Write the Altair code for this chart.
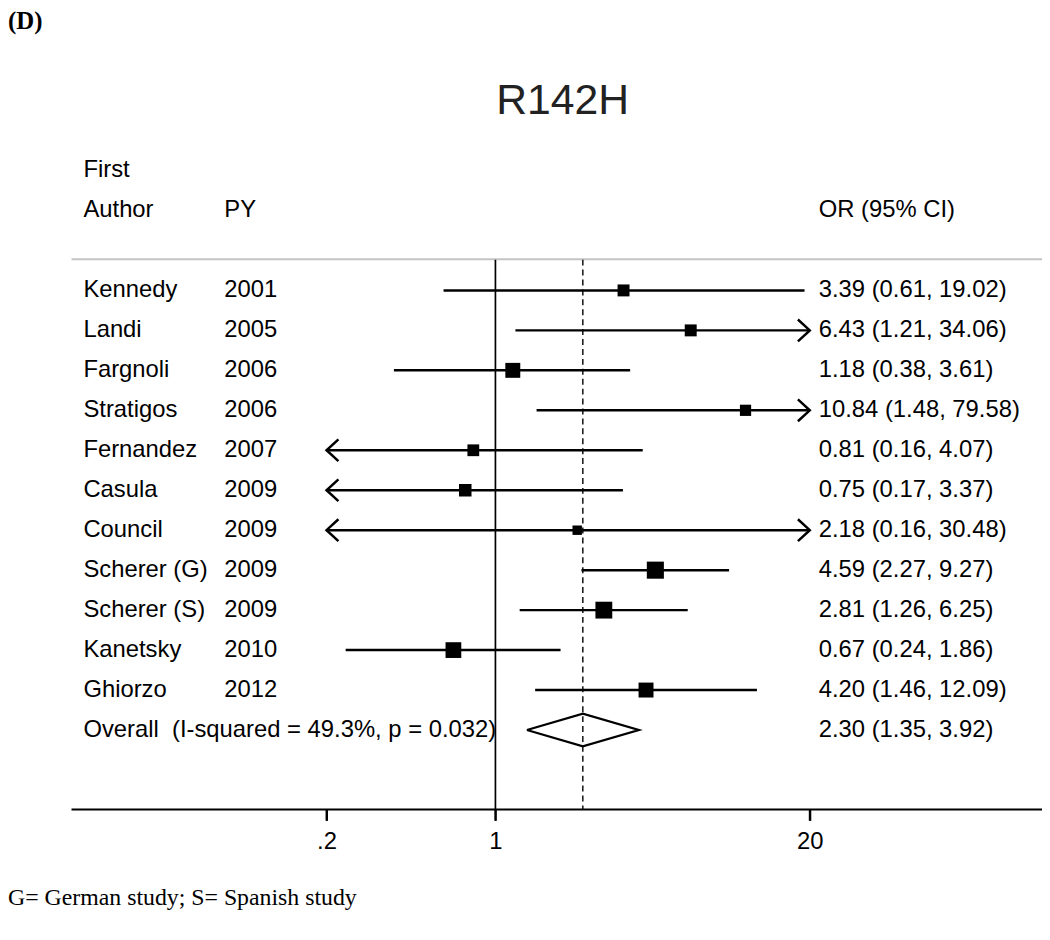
import altair as alt
import pandas as pd

# ---------------- data ----------------
authors = ["Kennedy", "Landi", "Fargnoli", "Stratigos", "Fernandez", "Casula",
           "Council", "Scherer (G)", "Scherer (S)", "Kanetsky", "Ghiorzo"]
years = ["2001", "2005", "2006", "2006", "2007", "2009", "2009", "2009", "2009", "2010", "2012"]
or_est = [3.39, 6.43, 1.18, 10.84, 0.81, 0.75, 2.18, 4.59, 2.81, 0.67, 4.20]
ci_low = [0.61, 1.21, 0.38, 1.48, 0.16, 0.17, 0.16, 2.27, 1.26, 0.24, 1.46]
ci_high = [19.02, 34.06, 3.61, 79.58, 4.07, 3.37, 30.48, 9.27, 6.25, 1.86, 12.09]
weights = [6.9, 6.9, 10.8, 6.1, 6.7, 7.6, 4.3, 14.1, 13.7, 12.0, 10.8]

overall_est, overall_low, overall_high = 2.30, 1.35, 3.92
i_squared, p_het = 49.3, 0.032

x_ticks = [0.2, 1.0, 20.0]
x_min, x_max = 0.2, 20
title_text = "R142H"
panel_label = "(D)"
footnote = "G= German study; S= Spanish study"

# ---------------- tables ----------------
n = len(authors)
df = pd.DataFrame({
    "author": authors, "year": years, "est": or_est, "lo": ci_low, "hi": ci_high,
    "w": weights, "row": list(range(1, n + 1)),
})
df["lo_c"] = df["lo"].clip(lower=x_min)
df["hi_c"] = df["hi"].clip(upper=x_max)
df["label"] = [f"{e:.2f} ({l:.2f}, {h:.2f})" for e, l, h in zip(or_est, ci_low, ci_high)]
left_arr = df[df["lo"] < x_min]
right_arr = df[df["hi"] > x_max]

orow = n + 1
ov_text = pd.DataFrame({
    "row": [orow, orow],
    "label": [f"Overall\u00a0 (I-squared = {i_squared}%, p = {p_het:.3f})",
              f"{overall_est:.2f} ({overall_low:.2f}, {overall_high:.2f})"],
    "col": ["a", "c"],
})
half_h = 0.41
diamond = pd.DataFrame({
    "x": [overall_low, overall_est, overall_high, overall_est, overall_low],
    "row": [orow, orow - half_h, orow, orow + half_h, orow],
    "o": [0, 1, 2, 3, 4],
})
headers = pd.DataFrame({
    "text": ["First", "Author", "PY", "OR (95% CI)"],
    "row": [-2, -1, -1, -1],
    "col": ["a", "a", "b", "c"],
})
# tick marks: from the axis line (row 13.99) down ~11px (row 14.26)
ticks_df = pd.DataFrame({"v": x_ticks, "r1": [13.99] * 3, "r2": [14.27] * 3})

FONT = "Liberation Sans, Arial, Helvetica, sans-serif"
SERIF = "Liberation Serif, Times New Roman, serif"
FS = 24
COLX = {"a": 76, "b": 218, "c": 817}

x_scale = alt.Scale(type="log", domain=[x_min, x_max], range=[321, 808], nice=False)
y_scale = alt.Scale(domain=[1, orow], range=[281, 724], nice=False, zero=False)

AX = alt.Axis(values=x_ticks, domain=False, grid=False, ticks=True, tickSize=11,
              tickWidth=2, tickColor="black", tickOpacity=1,
              labelFontSize=FS, labelFont=FONT, labelColor="black", labelPadding=9,
              labelFlush=False, labelOverlap=False, title=None,
              labelExpr="datum.value < 1 ? replace(format(datum.value, '.1f'), '0.', '.') : format(datum.value, 'd')")

def X(field):
    return alt.X(field, type="quantitative", scale=x_scale, title=None, axis=AX)

def Y(field="row"):
    return alt.Y(field, type="quantitative", scale=y_scale, axis=None, title=None)

null_df = pd.DataFrame({"v": [1.0]})
ov_df = pd.DataFrame({"v": [overall_est]})

null_line = alt.Chart(null_df).mark_rule(color="black", strokeWidth=1.7).encode(
    x=X("v"), y=alt.value(250), y2=alt.value(804),
)
dash_line = alt.Chart(ov_df).mark_rule(color="black", strokeWidth=1.4, strokeDash=[6, 4]).encode(
    x=X("v"), y=alt.value(250), y2=alt.value(804),
)
gray_line = alt.Chart(null_df).mark_rule(color="#c4c4c4", strokeWidth=2).encode(
    x=alt.value(64), x2=alt.value(1042), y=alt.value(249.5),
)
axis_line = alt.Chart(null_df).mark_rule(color="black", strokeWidth=2).encode(
    x=alt.value(64), x2=alt.value(1042), y=alt.value(804),
)
tick_marks = alt.Chart(ticks_df).mark_rule(color="black", strokeWidth=2, opacity=1).encode(
    x=X("v"), y=Y("r1"), y2="r2",
)

ci = alt.Chart(df).mark_rule(color="black", strokeWidth=2.5).encode(
    x=X("lo_c"), x2="hi_c", y=Y(),
)
boxes = alt.Chart(df).mark_square(color="black", filled=True, opacity=1).encode(
    x=X("est"), y=Y(),
    size=alt.Size("w:Q", scale=alt.Scale(domain=[0, 100], range=[0, 2100]), legend=None),
)
larrow = alt.Chart(left_arr).mark_point(
    shape="M1.09,-1L0,0L1.09,1", filled=False, color="black", strokeWidth=2.5,
    size=484, opacity=1,
).encode(x=X("lo_c"), y=Y())
rarrow = alt.Chart(right_arr).mark_point(
    shape="M-1.09,-1L0,0L-1.09,1", filled=False, color="black", strokeWidth=2.5,
    size=484, opacity=1,
).encode(x=X("hi_c"), y=Y())
dia = alt.Chart(diamond).mark_line(color="black", strokeWidth=2.3, strokeJoin="miter").encode(
    x=X("x"), y=Y(), order="o:Q",
)

def text_col(data, field, col):
    return alt.Chart(data).mark_text(
        align="left", baseline="middle", font=FONT, fontSize=FS, color="black",
    ).encode(x=alt.value(COLX[col]), y=Y(), text=f"{field}:N")

t_author = text_col(df, "author", "a")
t_year = text_col(df, "year", "b")
t_or = text_col(df, "label", "c")
t_ov_a = text_col(ov_text[ov_text["col"] == "a"], "label", "a")
t_ov_c = text_col(ov_text[ov_text["col"] == "c"], "label", "c")
t_heads = [text_col(headers[headers["col"] == c], "text", c) for c in ["a", "b", "c"]]

title = alt.Chart(pd.DataFrame({"t": [title_text]})).mark_text(
    align="center", baseline="middle", font=FONT, fontSize=43, color="#222222",
).encode(x=alt.value(559), y=alt.value(90), text="t:N")
plabel = alt.Chart(pd.DataFrame({"t": [panel_label]})).mark_text(
    align="left", baseline="alphabetic", font=SERIF, fontSize=25, fontWeight="bold", color="black",
).encode(x=alt.value(0), y=alt.value(18), text="t:N")
fnote = alt.Chart(pd.DataFrame({"t": [footnote]})).mark_text(
    align="left", baseline="middle", font=SERIF, fontSize=24, color="black",
).encode(x=alt.value(0), y=alt.value(893), text="t:N")

chart = alt.layer(
    gray_line, axis_line, null_line, dash_line, ci, larrow, rarrow, boxes, dia,
    t_author, t_year, t_or, t_ov_a, t_ov_c, *t_heads, title, plabel, fnote, tick_marks,
).properties(
    width=1042, height=804,
    background="white",
    autosize=alt.AutoSizeParams(type="none"),
    padding={"left": 0, "top": 0, "right": 0, "bottom": 128},
).configure_view(strokeWidth=0, stroke="transparent")

chart.save("out.html", embed_options={"renderer": "svg", "actions": False})
